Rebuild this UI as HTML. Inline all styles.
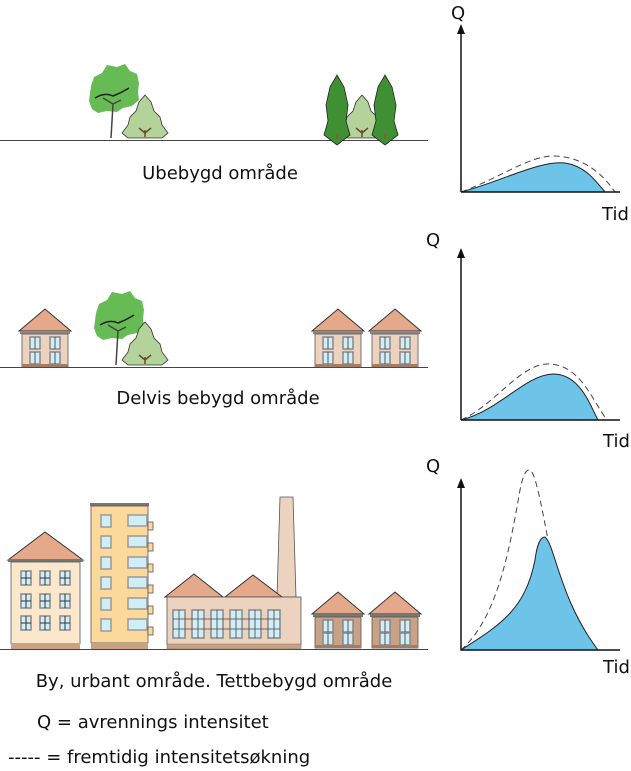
<!DOCTYPE html>
<html><head><meta charset="utf-8"><style>body{margin:0;background:#fff}svg{display:block}text{font-family:"DejaVu Sans",sans-serif;fill:#111}</style></head><body>
<svg width="631" height="771" viewBox="0 0 631 771" xmlns="http://www.w3.org/2000/svg">
<defs>
<g id="win2"><rect x="0" y="0" width="10" height="12" fill="#cfeef8" stroke="#888" stroke-width="1.5"/><line x1="5" y1="0" x2="5" y2="12" stroke="#555" stroke-width="1"/></g>
<g id="house">
<polygon points="0,22 26,0 52,22" fill="#e4a98a" stroke="#333" stroke-width="1"/>
<rect x="1" y="22" width="50" height="3" fill="#888"/>
<rect x="3" y="25" width="46" height="33" fill="#ecd3c0" stroke="#555" stroke-width="0.8"/>
<rect x="3" y="55" width="46" height="3" fill="#a87a60"/>
<use href="#win2" x="11" y="28"/><use href="#win2" x="31" y="28"/>
<use href="#win2" x="11" y="43"/><use href="#win2" x="31" y="43"/>
</g>
<g id="houseB">
<polygon points="0,22 26,0 52,22" fill="#e4a98a" stroke="#333" stroke-width="1"/>
<rect x="1" y="22" width="50" height="3" fill="#777"/>
<rect x="3" y="25" width="46" height="31" fill="#c9a184" stroke="#555" stroke-width="0.8"/>
<rect x="3" y="53" width="46" height="3" fill="#a87a60"/>
<use href="#win2" x="11" y="28"/><use href="#win2" x="31" y="28"/>
<use href="#win2" x="11" y="41"/><use href="#win2" x="31" y="41"/>
</g>
<g id="win4"><rect x="0" y="0" width="10" height="14" fill="#cfeef8" stroke="#888" stroke-width="1.5"/><line x1="5" y1="0" x2="5" y2="14" stroke="#333"/><line x1="0" y1="7" x2="10" y2="7" stroke="#333"/></g>
<g id="decid">
<path d="M-22,-52 l3,-9 8,-4 5,-8 10,2 8,-3 5,7 7,3 2,9 -1,9 1,8 -7,6 -9,2 -6,4 -10,-1 -9,2 -6,-4 -3,-8 z" fill="#66bb55"/>
<path d="M-2,0 L0,-34 -10,-40 M0,-34 L8,-38" stroke="#444" stroke-width="1.5" fill="none"/>
<path d="M-18,-40 q10,-6 18,-2 q8,-3 16,-8" stroke="#222" stroke-width="1.5" fill="none"/>
</g>
<g id="conif"><path d="M0,-64 l7,12 4,18 -2,16 4,14 -13,10 -13,-10 4,-14 -2,-16 4,-18z" fill="#3f8f33" stroke="#222" stroke-width="0.8"/><line x1="0" y1="-6" x2="0" y2="0" stroke="#8a5a3a" stroke-width="2"/></g>
<g id="bush"><path d="M0,-42 l6,7 3,9 6,6 2,8 6,8 -6,5 -34,0 -6,-5 6,-8 2,-8 6,-6 3,-9z" fill="#b4d39a" stroke="#333" stroke-width="0.8"/><path d="M0,-7 L0,0 M-6,-9 L0,-4 6,-9" stroke="#6b4a30" stroke-width="1.5" fill="none"/></g>
</defs>

<line x1="0" y1="140.5" x2="428" y2="140.5" stroke="#444" stroke-width="1"/>
<use href="#decid" x="113" y="138"/>
<use href="#bush" x="145" y="137"/>
<use href="#bush" x="362" y="137"/>
<use href="#conif" x="337" y="139"/>
<use href="#conif" x="385" y="139"/>
<text x="220" y="179" font-size="18" text-anchor="middle">Ubebygd område</text>

<path d="M461,192 C500,182 540,160 565,163 C585,166 595,180 605,192 Z" fill="#6ec3e8" stroke="#222" stroke-width="1"/>
<path d="M461,192 C500,178 530,155 555,156 C580,157 600,170 615,192" fill="none" stroke="#444" stroke-width="1" stroke-dasharray="6,4"/>
<line x1="461" y1="192" x2="461" y2="32" stroke="#111" stroke-width="1.5"/>
<polygon points="457,34 461,24 465,34" fill="#111"/>
<line x1="461" y1="192" x2="620" y2="192" stroke="#111" stroke-width="1.5"/>
<text x="451" y="19" font-size="18">Q</text>
<text x="602" y="220" font-size="18">Tid</text>

<line x1="0" y1="367.5" x2="428" y2="367.5" stroke="#444" stroke-width="1"/>
<use href="#house" x="19" y="309"/>
<use href="#decid" x="118" y="365"/>
<use href="#bush" x="145" y="364"/>
<use href="#house" x="312" y="309"/>
<use href="#house" x="369" y="309"/>
<text x="218" y="404" font-size="18" text-anchor="middle">Delvis bebygd område</text>

<path d="M461,420 C500,410 525,375 553,374 C580,374 590,405 598,420 Z" fill="#6ec3e8" stroke="#222" stroke-width="1"/>
<path d="M461,420 C495,405 520,364 548,364 C580,364 592,400 607,420" fill="none" stroke="#444" stroke-width="1" stroke-dasharray="6,4"/>
<line x1="461" y1="420" x2="461" y2="256" stroke="#111" stroke-width="1.5"/>
<polygon points="457,258 461,248 465,258" fill="#111"/>
<line x1="461" y1="420" x2="620" y2="420" stroke="#111" stroke-width="1.5"/>
<text x="426" y="246" font-size="18">Q</text>
<text x="603" y="447" font-size="18">Tid</text>

<line x1="0" y1="649.5" x2="428" y2="649.5" stroke="#444" stroke-width="1"/>
<polygon points="8,560 45,532 83,560" fill="#e4a98a" stroke="#333"/>
<rect x="8" y="559" width="75" height="3" fill="#777"/>
<rect x="11" y="562" width="69" height="82" fill="#fbe8cc" stroke="#555" stroke-width="0.8"/>
<rect x="11" y="643" width="69" height="6" fill="#c9a184"/>
<use href="#win4" x="21" y="571"/><use href="#win4" x="40" y="571"/><use href="#win4" x="60" y="571"/>
<use href="#win4" x="21" y="594"/><use href="#win4" x="40" y="594"/><use href="#win4" x="60" y="594"/>
<use href="#win4" x="21" y="616"/><use href="#win4" x="40" y="616"/><use href="#win4" x="60" y="616"/>
<rect x="90" y="503" width="59" height="3" fill="#777"/>
<rect x="91" y="506" width="57" height="137" fill="#fcd99b" stroke="#555" stroke-width="0.8"/>
<rect x="91" y="643" width="57" height="6" fill="#c9a184"/>
<g fill="#cfeef8" stroke="#999" stroke-width="1.5">
<rect x="101" y="515" width="10" height="12"/><rect x="128" y="515" width="19" height="11"/>
<rect x="101" y="536" width="10" height="12"/><rect x="128" y="536" width="19" height="11"/>
<rect x="101" y="557" width="10" height="12"/><rect x="128" y="557" width="19" height="11"/>
<rect x="101" y="577" width="10" height="12"/><rect x="128" y="577" width="19" height="11"/>
<rect x="101" y="598" width="10" height="12"/><rect x="128" y="598" width="19" height="11"/>
<rect x="101" y="619" width="10" height="12"/><rect x="128" y="619" width="19" height="11"/>
</g>
<g fill="#fcd99b" stroke="#555" stroke-width="0.8">
<rect x="148" y="522" width="5" height="8"/><rect x="148" y="543" width="5" height="8"/><rect x="148" y="564" width="5" height="8"/>
<rect x="148" y="585" width="5" height="8"/><rect x="148" y="606" width="5" height="8"/><rect x="148" y="627" width="5" height="8"/>
</g>
<polygon points="277,597 280,497 293,497 296,597" fill="#ecd3c0" stroke="#555" stroke-width="0.8"/>
<polygon points="165,597 194,574 223,597" fill="#e4a98a" stroke="#333"/>
<polygon points="225,597 253,575 282,597" fill="#e4a98a" stroke="#333"/>
<rect x="167" y="597" width="134" height="48" fill="#ecd3c0" stroke="#555" stroke-width="0.8"/>
<rect x="167" y="644" width="134" height="5" fill="#c9a184" stroke="#777" stroke-width="0.5"/>
<g fill="#cfeef8" stroke="#888" stroke-width="1.5">
<rect x="173" y="610" width="12" height="28"/><rect x="192" y="610" width="12" height="28"/><rect x="211" y="610" width="12" height="28"/>
<rect x="230" y="610" width="12" height="28"/><rect x="249" y="610" width="12" height="28"/><rect x="268" y="610" width="12" height="28"/>
</g>
<g stroke="#444" stroke-width="0.8">
<line x1="173" y1="619" x2="280" y2="619"/><line x1="173" y1="629" x2="280" y2="629"/>
<line x1="179" y1="610" x2="179" y2="638"/><line x1="198" y1="610" x2="198" y2="638"/><line x1="217" y1="610" x2="217" y2="638"/>
<line x1="236" y1="610" x2="236" y2="638"/><line x1="255" y1="610" x2="255" y2="638"/><line x1="274" y1="610" x2="274" y2="638"/>
</g>
<use href="#houseB" x="312" y="592"/>
<use href="#houseB" x="369" y="592"/>
<text x="214" y="687" font-size="18" text-anchor="middle">By, urbant område. Tettbebygd område</text>

<path d="M461,650 C500,625 525,610 535,560 C537,545 540,537 545,537 C555,545 560,600 598,650 Z" fill="#6ec3e8" stroke="#222" stroke-width="1"/>
<path d="M461,650 C495,620 508,560 520,490 C523,475 526,470 529,470 C533,470 537,480 548,540" fill="none" stroke="#444" stroke-width="1" stroke-dasharray="6,4"/>
<line x1="461" y1="650" x2="461" y2="486" stroke="#111" stroke-width="1.5"/>
<polygon points="457,488 461,478 465,488" fill="#111"/>
<line x1="461" y1="650" x2="620" y2="650" stroke="#111" stroke-width="1.5"/>
<text x="426" y="472" font-size="18">Q</text>
<text x="603" y="673" font-size="18">Tid</text>

<text x="37" y="728" font-size="18">Q = avrennings intensitet</text>
<text x="8" y="763" font-size="18">----- = fremtidig intensitetsøkning</text>
</svg>
</body></html>
